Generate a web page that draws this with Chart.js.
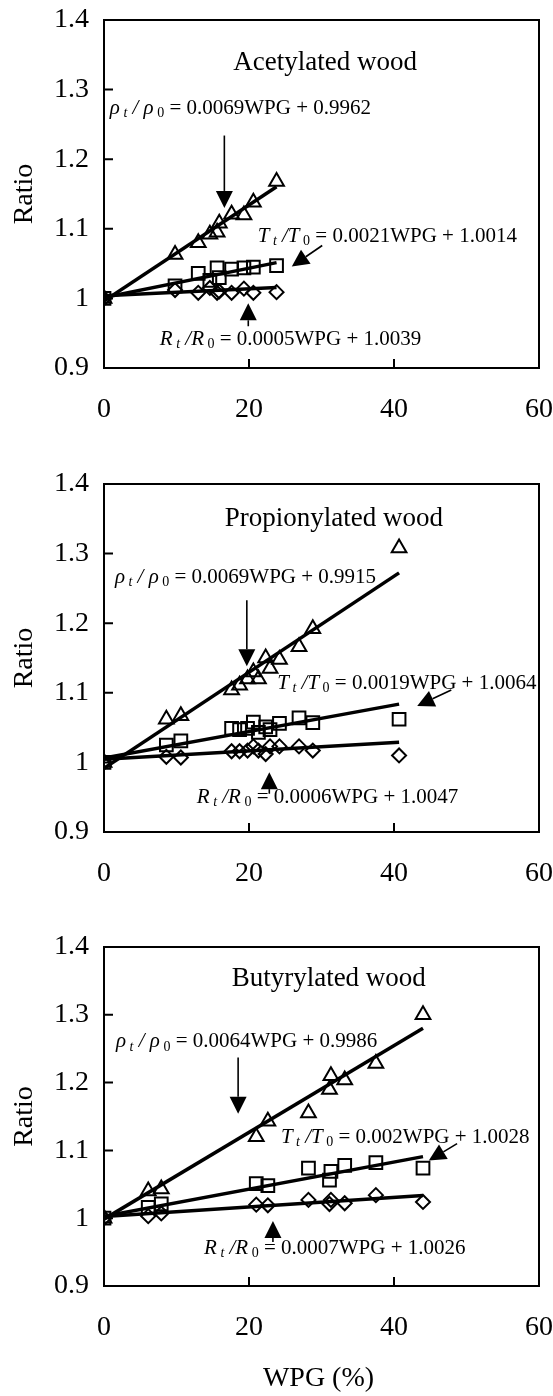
<!DOCTYPE html>
<html>
<head>
<meta charset="utf-8">
<script src="https://cdn.jsdelivr.net/npm/chart.js@4.4.1/dist/chart.umd.min.js"></script>
<style>
  html, body { margin: 0; padding: 0; background: #fff; }
  #wrap { position: relative; width: 553px; height: 1396px; }
  canvas { position: absolute; left: 0; }
</style>
</head>
<body>
<div id="wrap">
  <canvas id="acet" width="553" height="440" style="top:0px"></canvas>
  <canvas id="prop" width="553" height="460" style="top:440px"></canvas>
  <canvas id="buty" width="553" height="496" style="top:900px"></canvas>
</div>
<script>
// weight percent gain of each specimen and the three ratios measured on it
var acetWpg = [0, 9.8, 13.0, 14.6, 15.6, 15.9, 17.6, 19.3, 20.6, 23.8];
var acetRho = [1.0, 1.063, 1.08, 1.092, 1.095, 1.108, 1.121, 1.12, 1.138, 1.168];
var acetT   = [1.0, 1.018, 1.036, 1.026, 1.044, 1.03, 1.042, 1.044, 1.045, 1.047];
var acetR   = [1.0, 1.012, 1.008, 1.015, 1.008, 1.01, 1.008, 1.014, 1.008, 1.009];

var propWpg = [0, 8.6, 10.6, 17.6, 18.7, 19.8, 20.6, 21.3, 22.3, 22.9, 24.2, 26.9, 28.8, 40.7];
var propRho = [1.0, 1.062, 1.067, 1.104, 1.111, 1.12, 1.13, 1.12, 1.15, 1.135, 1.148, 1.166, 1.192, 1.308];
var propT   = [1.0, 1.025, 1.031, 1.049, 1.047, 1.049, 1.058, 1.043, 1.051, 1.047, 1.056, 1.064, 1.057, 1.062];
var propR   = [1.0, 1.008, 1.007, 1.016, 1.016, 1.017, 1.023, 1.017, 1.012, 1.023, 1.023, 1.023, 1.017, 1.01];

var butyWpg = [0, 6.1, 7.9, 21.0, 22.6, 28.2, 31.1, 31.3, 33.2, 37.5, 44.0];
var butyRho = [1.0, 1.04, 1.043, 1.12, 1.143, 1.155, 1.19, 1.21, 1.204, 1.228, 1.3];
var butyT   = [1.0, 1.016, 1.021, 1.051, 1.048, 1.074, 1.056, 1.069, 1.078, 1.082, 1.074];
var butyR   = [1.0, 1.003, 1.007, 1.02, 1.019, 1.027, 1.021, 1.027, 1.022, 1.034, 1.024];

// linear fits, order: rho, T, R
var acetSlope = [0.0069, 0.0021, 0.0005];
var acetIcpt  = [0.9962, 1.0014, 1.0039];
var propSlope = [0.0069, 0.0019, 0.0006];
var propIcpt  = [0.9915, 1.0064, 1.0047];
var butySlope = [0.0064, 0.002, 0.0007];
var butyIcpt  = [0.9986, 1.0028, 1.0026];

var xTicks = [0, 20, 40, 60];
var yTicks = [0.9, 1.0, 1.1, 1.2, 1.3, 1.4];

var SERIF = "'Liberation Serif', 'Times New Roman', serif";

function eqParts(sym, slope, icpt) {
  var body = ' = ' + slope + 'WPG + ' + icpt;
  if (sym === 'rho') {
    return [['\u03c1', 'it'], [' t', 'sub'], [' / ', 'it'], ['\u03c1', 'it'], [' 0', 'sub0'], [body, 'rm']];
  }
  return [[sym, 'it'], [' t', 'sub'], [' /', 'it'], [sym, 'it'], [' 0', 'sub0'], [body, 'rm']];
}

function drawEquation(ctx, x, y, parts) {
  var cx = x;
  parts.forEach(function (p) {
    var size = 21, style = '', dy = 0;
    if (p[1] === 'it') style = 'italic ';
    if (p[1] === 'sub') { size = 14; style = 'italic '; dy = 5; }
    if (p[1] === 'sub0') { size = 14; dy = 5; }
    ctx.font = style + size + 'px ' + SERIF;
    ctx.fillText(p[0], cx, y + dy);
    cx += ctx.measureText(p[0]).width;
  });
}

function drawArrow(ctx, x1, y1, x2, y2) {
  var ang = Math.atan2(y2 - y1, x2 - x1);
  var len = 17, half = 8.5;
  var bx = x2 - Math.cos(ang) * len, by = y2 - Math.sin(ang) * len;
  ctx.beginPath();
  ctx.moveTo(x1, y1);
  ctx.lineTo(bx, by);
  ctx.lineWidth = 1.6;
  ctx.stroke();
  ctx.beginPath();
  ctx.moveTo(x2, y2);
  ctx.lineTo(bx + Math.sin(ang) * half, by - Math.cos(ang) * half);
  ctx.lineTo(bx - Math.sin(ang) * half, by + Math.cos(ang) * half);
  ctx.closePath();
  ctx.fill();
}

// frame, inward ticks, axis names, panel title, fit equations and arrows
var panelNotes = {
  id: 'panelNotes',
  afterDraw: function (chart, args, opts) {
    var ctx = chart.ctx, a = chart.chartArea;
    var xs = chart.scales.x, ys = chart.scales.y;
    ctx.save();
    ctx.strokeStyle = '#000';
    ctx.fillStyle = '#000';
    ctx.lineWidth = 2;
    ctx.strokeRect(a.left, a.top, a.right - a.left, a.bottom - a.top);
    ctx.beginPath();
    yTicks.forEach(function (v) {
      var py = ys.getPixelForValue(v);
      ctx.moveTo(a.left, py);
      ctx.lineTo(a.left + 9, py);
    });
    xTicks.forEach(function (v) {
      var px = xs.getPixelForValue(v);
      ctx.moveTo(px, a.bottom);
      ctx.lineTo(px, a.bottom - 9);
    });
    ctx.stroke();

    ctx.textBaseline = 'middle';
    ctx.textAlign = 'center';
    ctx.font = '28px ' + SERIF;
    ctx.save();
    ctx.translate(25, (a.top + a.bottom) / 2);
    ctx.rotate(-Math.PI / 2);
    ctx.fillText('Ratio', 0, 0);
    ctx.restore();
    if (opts.xTitle) {
      ctx.fillText(opts.xTitle, (a.left + a.right) / 2 - 3, a.bottom + 93);
    }

    ctx.font = '27px ' + SERIF;
    ctx.fillText(opts.title, xs.getPixelForValue(opts.titleAt[0]), ys.getPixelForValue(opts.titleAt[1]));

    ctx.textAlign = 'left';
    opts.eqs.forEach(function (e) {
      drawEquation(ctx, xs.getPixelForValue(e.at[0]), ys.getPixelForValue(e.at[1]), e.parts);
    });
    opts.arrows.forEach(function (r) {
      drawArrow(ctx,
        xs.getPixelForValue(r.from[0]), ys.getPixelForValue(r.from[1]),
        xs.getPixelForValue(r.to[0]), ys.getPixelForValue(r.to[1]));
    });
    ctx.restore();
  }
};

function points(xv, yv) {
  return xv.map(function (x, i) { return { x: x, y: yv[i] }; });
}

function fitLine(xv, slope, icpt) {
  var xmax = Math.max.apply(null, xv);
  return [{ x: 0, y: icpt }, { x: xmax, y: slope * xmax + icpt }];
}

function makePanel(id, wpg, rho, t, r, slope, icpt, topPad, axisH, notes) {
  var marker = function (data, style, radius) {
    return {
      data: data, showLine: false, pointStyle: style, pointRadius: radius,
      pointBorderWidth: 2, borderColor: '#000', pointBorderColor: '#000',
      pointBackgroundColor: 'rgba(0,0,0,0)'
    };
  };
  var fit = function (i) {
    return {
      data: fitLine(wpg, slope[i], icpt[i]), showLine: true, pointRadius: 0,
      borderColor: '#000', borderWidth: 3.5
    };
  };
  var tickFont = { family: SERIF, size: 28 };
  return new Chart(document.getElementById(id), {
    type: 'scatter',
    data: {
      datasets: [
        fit(0), fit(1), fit(2),
        marker(points(wpg, rho), 'triangle', 8.5),
        marker(points(wpg, t), 'rect', 9),
        marker(points(wpg, r), 'rectRot', 7)
      ]
    },
    options: {
      responsive: false,
      animation: false,
      devicePixelRatio: 1,
      layout: { padding: { top: topPad, right: 14, left: 0, bottom: 0 } },
      plugins: { legend: { display: false }, tooltip: { enabled: false }, panelNotes: notes },
      scales: {
        x: {
          type: 'linear', min: 0, max: 60,
          afterBuildTicks: function (s) { s.ticks = xTicks.map(function (v) { return { value: v }; }); },
          ticks: { font: tickFont, color: '#000', padding: 25, maxRotation: 0 },
          grid: { display: false, drawTicks: false },
          border: { display: false },
          afterFit: function (s) { s.height = axisH; s.paddingLeft = 0; s.paddingRight = 0; }
        },
        y: {
          type: 'linear', min: 0.9, max: 1.4,
          afterBuildTicks: function (s) { s.ticks = yTicks.map(function (v) { return { value: v }; }); },
          ticks: {
            font: tickFont, color: '#000', padding: 15,
            callback: function (v) { return String(Math.round(v * 10) / 10); }
          },
          grid: { display: false, drawTicks: false },
          border: { display: false },
          afterFit: function (s) { s.width = 104; s.paddingTop = 0; s.paddingBottom = 0; }
        }
      }
    },
    plugins: [panelNotes]
  });
}

makePanel('acet', acetWpg, acetRho, acetT, acetR, acetSlope, acetIcpt, 20, 72, {
  title: 'Acetylated wood', titleAt: [30.5, 1.338],
  eqs: [
    { at: [0.8, 1.273], parts: eqParts('rho', acetSlope[0], acetIcpt[0]) },
    { at: [21.2, 1.089], parts: eqParts('T', acetSlope[1], acetIcpt[1]) },
    { at: [7.7, 0.941], parts: eqParts('R', acetSlope[2], acetIcpt[2]) }
  ],
  arrows: [
    { from: [16.6, 1.234], to: [16.6, 1.13] },
    { from: [30.1, 1.076], to: [25.9, 1.046] },
    { from: [19.9, 0.96], to: [19.9, 0.993] }
  ]
});

makePanel('prop', propWpg, propRho, propT, propR, propSlope, propIcpt, 44, 68, {
  title: 'Propionylated wood', titleAt: [31.7, 1.35],
  eqs: [
    { at: [1.5, 1.266], parts: eqParts('rho', propSlope[0], propIcpt[0]) },
    { at: [23.9, 1.114], parts: eqParts('T', propSlope[1], propIcpt[1]) },
    { at: [12.8, 0.95], parts: eqParts('R', propSlope[2], propIcpt[2]) }
  ],
  arrows: [
    { from: [19.7, 1.233], to: [19.7, 1.138] },
    { from: [47.9, 1.104], to: [43.2, 1.081] },
    { from: [22.8, 0.955], to: [22.8, 0.986] }
  ]
});

makePanel('buty', butyWpg, butyRho, butyT, butyR, butySlope, butyIcpt, 47, 110, {
  title: 'Butyrylated wood', titleAt: [31.0, 1.353], xTitle: 'WPG (%)',
  eqs: [
    { at: [1.66, 1.26], parts: eqParts('rho', butySlope[0], butyIcpt[0]) },
    { at: [24.4, 1.119], parts: eqParts('T', butySlope[1], butyIcpt[1]) },
    { at: [13.8, 0.956], parts: eqParts('R', butySlope[2], butyIcpt[2]) }
  ],
  arrows: [
    { from: [18.5, 1.237], to: [18.5, 1.154] },
    { from: [48.7, 1.11], to: [44.8, 1.085] },
    { from: [23.3, 0.965], to: [23.3, 0.996] }
  ]
});
</script>
</body>
</html>
